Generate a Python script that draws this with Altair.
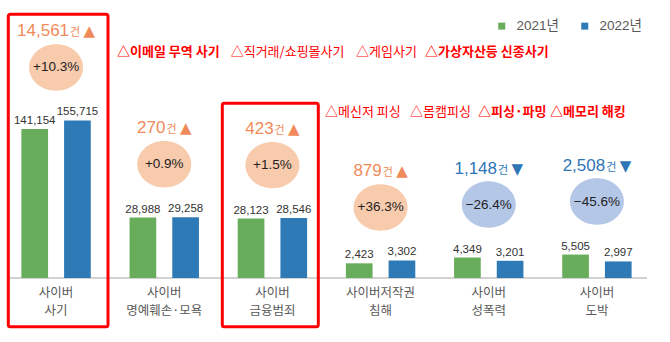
import altair as alt
import pandas as pd

# ---------------- data ----------------
categories = ["사이버\n사기", "사이버\n명예훼손·모욕", "사이버\n금융범죄",
              "사이버저작권\n침해", "사이버\n성폭력", "사이버\n도박"]
years = ["2021년", "2022년"]
values_2021 = [141154, 28988, 28123, 2423, 4349, 5505]
values_2022 = [155715, 29258, 28546, 3302, 3201, 2997]

note_line1 = ["△이메일 무역 사기", "△직거래/쇼핑몰사기", "△게임사기", "△가상자산등 신종사기"]
note_line2 = ["△메신저 피싱", "△몸캠피싱", "△피싱·파밍", "△메모리 해킹"]

# ---------------- layout / style (kept apart from the data) ----------------
note1_x = [115, 228.7, 354, 423]
note2_x = [323, 408, 476, 548]
note1_bold = [True, False, False, True]
note2_bold = [False, False, True, True]
note1_y, note2_y = 52, 112
box_x1 = [6.3, 220.3]
box_x2 = [106, 316.3]
box_y1 = [14.3, 103.3]
box_y2 = [326.7, 326.7]

NUM = "Liberation Sans, Arial, sans-serif"
CJK = "Noto Sans CJK KR"
UP_COL, DOWN_COL = "#F08A5A", "#2E75B6"
UP_FILL, DOWN_FILL = "#F8CBAD", "#B4C7E7"

bars = pd.DataFrame(
    [{"category": c, "year": years[0], "value": a} for c, a in zip(categories, values_2021)]
    + [{"category": c, "year": years[1], "value": b} for c, b in zip(categories, values_2022)]
)

summ = pd.DataFrame({"category": categories, "v2021": values_2021, "v2022": values_2022})
summ["diff"] = summ["v2022"] - summ["v2021"]
summ["pct"] = summ["diff"] / summ["v2021"] * 100
summ["top"] = summ[["v2021", "v2022"]].max(axis=1)
summ["count_label"] = summ["diff"].abs().map(lambda d: f"{d:,}")
summ["pct_label"] = summ["pct"].map(lambda p: f"{p:+.1f}%".replace("-", "−"))

X = alt.X("category:N", sort=categories, title=None,
          scale=alt.Scale(paddingInner=0, paddingOuter=0),
          axis=alt.Axis(domain=False, ticks=False, labelAngle=0, labelFont=CJK,
                        labelFontSize=12.5, labelColor="#595959", labelLineHeight=18.5,
                        labelPadding=8, labelOverlap=False, labelBound=False,
                        labelExpr="split(datum.label, '\\n')"))
YSCALE = alt.Scale(type="pow", exponent=0.57, domain=[0, 421800], nice=False, zero=True)
XO = alt.XOffset("year:N", sort=years,
                 scale=alt.Scale(domain=years, paddingInner=0.375, paddingOuter=0.454))

bar_layer = alt.Chart(bars).mark_bar().encode(
    x=X, xOffset=XO,
    y=alt.Y("value:Q", scale=YSCALE, axis=None),
    color=alt.Color("year:N", scale=alt.Scale(domain=years, range=["#68AD5B", "#2E7AB6"]),
                    legend=alt.Legend(orient="none", legendX=493, legendY=19, direction="horizontal",
                                      title=None, symbolType="square", symbolSize=49,
                                      labelFontSize=13.5, labelColor="#595959",
                                      labelFont="Liberation Sans, Noto Sans CJK KR",
                                      columnPadding=19, labelOffset=8, padding=0,
                                      symbolStrokeWidth=0, symbolOpacity=1)),
)

value_layer = alt.Chart(bars).mark_text(font=NUM, fontSize=11.5, color="#333333",
                                        baseline="alphabetic", dy=-5).encode(
    x=X, xOffset=XO,
    y=alt.Y("value:Q", scale=YSCALE, axis=None),
    text=alt.Text("value:Q", format=","),
)

base_df = pd.DataFrame({"x1": [7], "x2": [645], "y": [278]})
baseline = alt.Chart(base_df).mark_rule(color="#C3C3C3", strokeWidth=1.5).encode(
    x=alt.X("x1:Q", scale=None), x2="x2:Q", y=alt.Y("y:Q", scale=None)
)

ELLIPSE = "M -1 0 A 1 0.86 0 1 1 1 0 A 1 0.86 0 1 1 -1 0 Z"
circle_layer = alt.Chart(summ).mark_point(filled=True, shape=ELLIPSE, size=2916, opacity=1,
                                          strokeWidth=0, yOffset=-53).encode(
    x=X,
    y=alt.Y("top:Q", scale=YSCALE, axis=None),
    fill=alt.condition("datum.diff > 0", alt.value(UP_FILL), alt.value(DOWN_FILL)),
)
pct_layer = alt.Chart(summ).mark_text(font=NUM, fontSize=13.5, color="#222222",
                                      baseline="middle", dy=-53).encode(
    x=X,
    y=alt.Y("top:Q", scale=YSCALE, axis=None),
    text="pct_label:N",
)

layers = [baseline, bar_layer, value_layer, circle_layer, pct_layer]

# count labels "14,561건 ▲"
NUM_SIZE = 17
def num_width(s, size):
    return sum((0.278 if ch == "," else 0.556) * size for ch in s)

SUF_W = 11 + 3 + 12
for _, row in summ.iterrows():
    up = row["diff"] > 0
    col = UP_COL if up else DOWN_COL
    anchor = float((num_width(row["count_label"], NUM_SIZE) - SUF_W) / 2)
    sub = summ[summ["category"] == row["category"]].copy()
    sub["suffix"] = "건"
    sub["arrow"] = "▲" if up else "▼"
    base = alt.Chart(sub)
    enc = dict(x=X, y=alt.Y("top:Q", scale=YSCALE, axis=None))
    layers.append(base.mark_text(font=NUM, fontSize=NUM_SIZE, color=col, align="right",
                                 baseline="alphabetic", dx=anchor, dy=-84)
                  .encode(text="count_label:N", **enc))
    layers.append(base.mark_text(font=CJK, fontSize=11, color=col, align="left",
                                 baseline="alphabetic", dx=anchor + 1, dy=-84)
                  .encode(text="suffix:N", **enc))
    layers.append(base.mark_text(font="DejaVu Sans", fontSize=15, color=col, align="left",
                                 baseline="alphabetic", dx=anchor + 14.5, dy=-84)
                  .encode(text="arrow:N", **enc))

for txts, xs, bolds, yy in [(note_line1, note1_x, note1_bold, note1_y),
                            (note_line2, note2_x, note2_bold, note2_y)]:
    for txt, px, bold in zip(txts, xs, bolds):
        df = pd.DataFrame({"t": [txt], "px": [px], "py": [yy]})
        layers.append(alt.Chart(df).mark_text(font=CJK, fontSize=13, color="#FF0000",
                                              align="left", baseline="middle",
                                              fontWeight="bold" if bold else "normal")
                      .encode(x=alt.X("px:Q", scale=None), y=alt.Y("py:Q", scale=None), text="t:N"))

box_df = pd.DataFrame({"x1": box_x1, "x2": box_x2, "y1": box_y1, "y2": box_y2})
layers.append(alt.Chart(box_df).mark_rect(filled=False, stroke="#FF0000", strokeWidth=3,
                                          cornerRadius=2)
              .encode(x=alt.X("x1:Q", scale=None), x2="x2:Q",
                      y=alt.Y("y1:Q", scale=None), y2="y2:Q"))

chart = alt.layer(*layers).properties(
    width=649, height=278,
    autosize=alt.AutoSizeParams(type="none"),
    padding={"left": 2, "top": 0, "right": 19, "bottom": 64},
    background="white",
).configure_view(stroke=None)

chart.save("out.html", embed_options={"renderer": "svg", "actions": False})
